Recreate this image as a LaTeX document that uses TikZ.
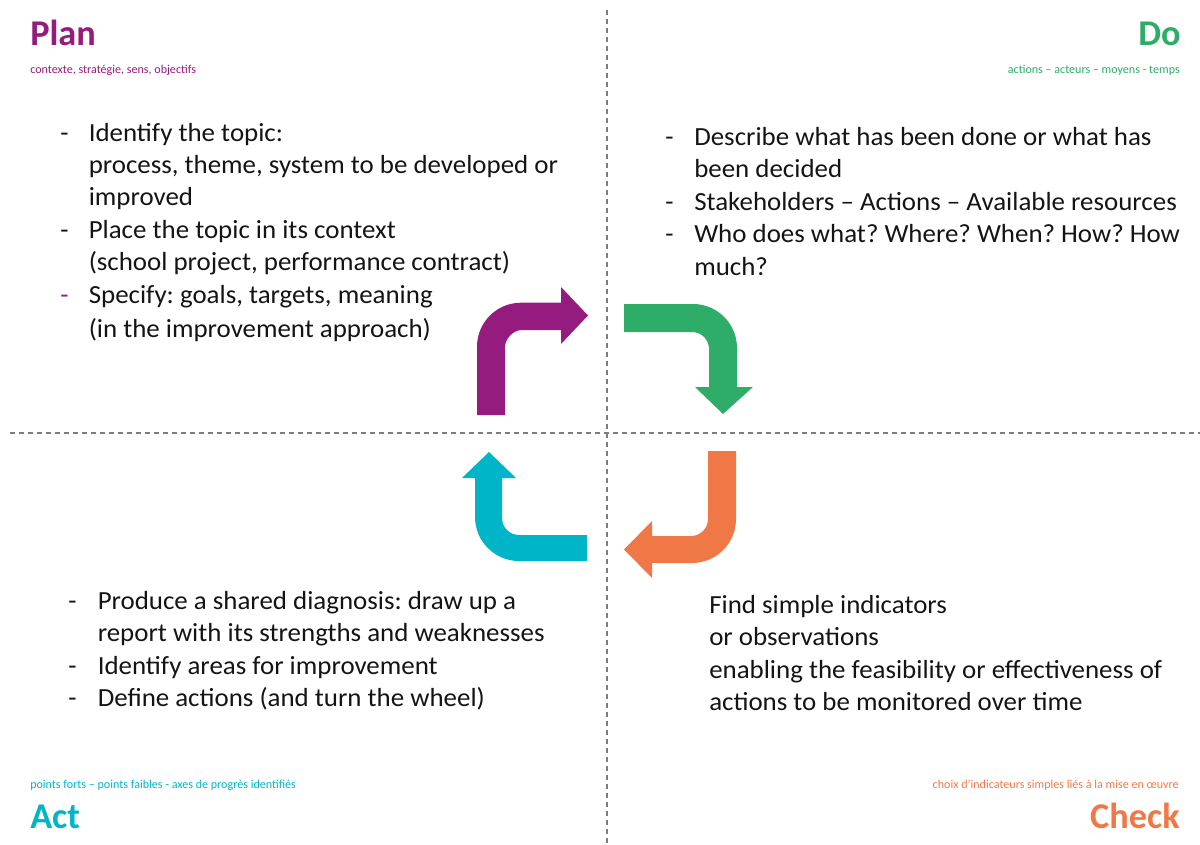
\documentclass[tikz,border=0pt]{standalone}
\usepackage{fontspec}
\setmainfont{Carlito}
\newfontfamily\bodyfont[FakeStretch=1.03]{Carlito}
\frenchspacing
\definecolor{planc}{RGB}{149,28,126}
\definecolor{doc}{RGB}{45,173,103}
\definecolor{checkc}{RGB}{240,120,70}
\definecolor{actc}{RGB}{0,181,199}
\definecolor{gridc}{RGB}{125,125,125}
\definecolor{textc}{RGB}{20,20,20}
\begin{document}
\begin{tikzpicture}[x=0.75pt,y=-0.75pt,
  body/.style={anchor=base west,inner sep=0pt,text=textc,font=\bodyfont\fontsize{19.6}{22}\selectfont\frenchspacing},
  bullet/.style={body},
  head/.style={inner sep=0pt,font=\fontsize{27.2}{30}\selectfont\bfseries},
  note/.style={inner sep=0pt,font=\fontsize{9.05}{10}\selectfont\frenchspacing},
  grid/.style={draw=gridc,line width=1.1pt,dash pattern=on 3.75pt off 3pt}]
\useasboundingbox (0,0) rectangle (1200,845);

% quadrant separators
\draw[grid] (607,10) -- (607,845);
\draw[grid] (10,433) -- (1200,433);

% cycle arrows
\fill[planc] (477,415) -- (477,346.7) .. controls (477,322.4) and (496.7,302.7) .. (521,302.7)
  -- (561,302.7) -- (561,287) -- (588,315.5) -- (561,344) -- (561,330) -- (522,330)
  .. controls (512.6,330) and (505,339.4) .. (505,347) -- (505,415) -- cycle;
\fill[doc] (624,304) -- (693,304) .. controls (717.3,304) and (737,323.7) .. (737,348)
  -- (737,387) -- (753,387) -- (723,414) -- (695,387) -- (709,387) -- (709,349)
  .. controls (709,339.6) and (701.4,332) .. (692,332) -- (624,332) -- cycle;
\fill[actc] (587,561) -- (519,561) .. controls (494.7,561) and (475,541.3) .. (475,517)
  -- (475,478) -- (462,478) -- (489,452) -- (516,478) -- (502,478) -- (502,518)
  .. controls (502,527.4) and (509.6,535) .. (519,535) -- (587,535) -- cycle;
\fill[checkc] (708,451) -- (736,451) -- (736,519) .. controls (736,543.3) and (716.3,563) .. (692,563)
  -- (652,563) -- (652,578) -- (624,549.5) -- (652,521) -- (652,536) -- (691,536)
  .. controls (700.4,536) and (708,528.4) .. (708,519) -- cycle;

% headings
\node[head,text=planc,anchor=base west] (plan) at (30,46) {Plan};
\node[head,text=doc,anchor=base east] (do) at (1181,46) {Do};
\node[head,text=actc,anchor=base west] (act) at (30,828) {Act};
\node[head,text=checkc,anchor=base east] (check) at (1180,828) {Check};

\node[note,text=planc,anchor=base west] (plannote) at (30,74) {contexte, stratégie, sens, objectifs};
\node[note,text=doc,anchor=base east] (donote) at (1180,74) {actions – acteurs – moyens - temps};
\node[note,text=actc,anchor=base west] (actnote) at (30,788) {points forts – points faibles - axes de progrès identifiés};
\node[note,text=checkc,anchor=base east] (checknote) at (1179,788) {choix d’indicateurs simples liés à la mise en œuvre};

% Plan
\node[bullet] (pb1) at (60,141.5) {-};
\node[bullet] (pb2) at (60,238.5) {-};
\node[bullet,text=planc] (pb3) at (60,303.5) {-};
\node[body] (p1) at (88.5,141.5) {Identify the topic:};
\node[body] (p2) at (88.5,174) {process, theme, system to be developed or};
\node[body] (p3) at (88.5,206) {improved};
\node[body] (p4) at (88.5,238.5) {Place the topic in its context};
\node[body] (p5) at (88.5,271) {(school project, performance contract)};
\node[body] (p6) at (88.5,303.5) {Specify: goals, targets, meaning};
\node[body] (p7) at (88.5,337.5) {(in the improvement approach)};

% Do
\node[bullet] (db1) at (665,146) {-};
\node[bullet] (db2) at (665,210.5) {-};
\node[bullet] (db3) at (665,243) {-};
\node[body] (d1) at (694,146) {Describe what has been done or what has};
\node[body] (d2) at (694,178) {been decided};
\node[body] (d3) at (694,210.5) {Stakeholders – Actions – Available resources};
\node[body] (d4) at (694,243) {Who does what? Where? When? How? How};
\node[body] (d5) at (694,275) {much?};

% Act
\node[bullet] (ab1) at (68,609) {-};
\node[bullet] (ab2) at (68,674) {-};
\node[bullet] (ab3) at (68,706.5) {-};
\node[body] (a1) at (97.5,609) {Produce a shared diagnosis: draw up a};
\node[body] (a2) at (97.5,641.5) {report with its strengths and weaknesses};
\node[body] (a3) at (97.5,674) {Identify areas for improvement};
\node[body] (a4) at (97.5,706.5) {Define actions (and turn the wheel)};

% Check
\node[body] (c1) at (709,613) {Find simple indicators};
\node[body] (c2) at (709,645.5) {or observations};
\node[body] (c3) at (709,678) {enabling the feasibility or effectiveness of};
\node[body] (c4) at (709,710.5) {actions to be monitored over time};
\end{tikzpicture}
\end{document}
